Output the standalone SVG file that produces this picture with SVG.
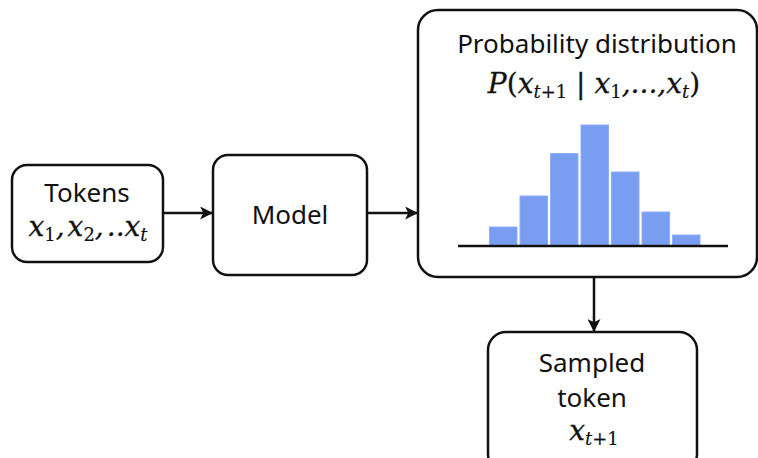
<svg xmlns="http://www.w3.org/2000/svg" width="758" height="458" viewBox="0 0 758 458">
  <style>
    .box { fill: #ffffff; stroke: #111111; stroke-width: 2.5; }
    .lbl { font-family: "Noto Sans", "Open Sans", sans-serif; font-size: 26px; fill: #111111; text-anchor: middle; }
    .math { font-family: "DejaVu Serif", "Liberation Serif", serif; font-style: italic; font-size: 28px; fill: #111111; stroke: #111111; stroke-width: 0.3; }
    .sub { font-style: normal; font-size: 18px; stroke-width: 0.15; }
    .subi { font-style: italic; font-size: 18px; stroke-width: 0.15; }
    .up { font-style: normal; }
    .edge { stroke: #111111; stroke-width: 2.5; fill: none; marker-end: url(#arrow); }
    .bar { fill: #799df0; stroke: #8fb0f5; stroke-width: 1; }
  </style>
  <defs>
    <marker id="arrow" viewBox="0 0 12 12" refX="11" refY="6" markerWidth="13" markerHeight="13" markerUnits="userSpaceOnUse" orient="auto">
      <path d="M0,0 L12,6 L0,12 L3,6 Z" fill="#111111"/>
    </marker>
  </defs>
  <rect width="758" height="458" fill="#ffffff"/>

  <g id="connectors">
    <line class="edge" x1="163" y1="213" x2="212" y2="213"/>
    <line class="edge" x1="367" y1="213" x2="417" y2="213"/>
    <line class="edge" x1="594" y1="277" x2="594" y2="331"/>
  </g>

  <g id="tokens">
    <rect class="box" x="12" y="165" width="151" height="97" rx="15"/>
    <text class="lbl" x="87" y="202" font-size="25">Tokens</text>
    <text class="math" x="88" y="236" text-anchor="middle">x<tspan class="sub" dy="5">1</tspan><tspan dy="-5">,</tspan><tspan dx="3">x</tspan><tspan class="sub" dy="5">2</tspan><tspan dy="-5">,</tspan><tspan dx="3">..x</tspan><tspan class="subi" dy="5">t</tspan></text>
  </g>

  <g id="model">
    <rect class="box" x="213" y="155" width="154" height="120" rx="15"/>
    <text class="lbl" x="290" y="224">Model</text>
  </g>

  <g id="distribution">
    <rect class="box" x="418" y="10" width="339" height="267" rx="20"/>
    <text class="lbl" x="597" y="53">Probability distribution</text>
    <text class="math" x="594" y="93" text-anchor="middle">P<tspan class="up">(</tspan>x<tspan class="subi" dy="5">t</tspan><tspan class="sub">+1</tspan><tspan class="up" dy="-5"> | </tspan>x<tspan class="sub" dy="5">1</tspan><tspan dy="-5">,...,x</tspan><tspan class="subi" dy="5">t</tspan><tspan class="up" dy="-5">)</tspan></text>
    <rect class="bar" x="489.5" y="227" width="27.5" height="18"/>
    <rect class="bar" x="520" y="196" width="27.5" height="49"/>
    <rect class="bar" x="550.5" y="153.5" width="27.5" height="91.5"/>
    <rect class="bar" x="581" y="125" width="27.5" height="120"/>
    <rect class="bar" x="611.5" y="172" width="27.5" height="73"/>
    <rect class="bar" x="642" y="212" width="27.5" height="33"/>
    <rect class="bar" x="672.5" y="235" width="27.5" height="10"/>
    <line x1="458" y1="246" x2="728" y2="246" stroke="#111111" stroke-width="2.5"/>
  </g>

  <g id="sampled">
    <rect class="box" x="488" y="332" width="209" height="140" rx="18"/>
    <text class="lbl" x="592" y="372">Sampled</text>
    <text class="lbl" x="592" y="407">token</text>
    <text class="math" x="594" y="440" text-anchor="middle">x<tspan class="subi" dy="5">t</tspan><tspan class="sub">+1</tspan></text>
  </g>
</svg>
